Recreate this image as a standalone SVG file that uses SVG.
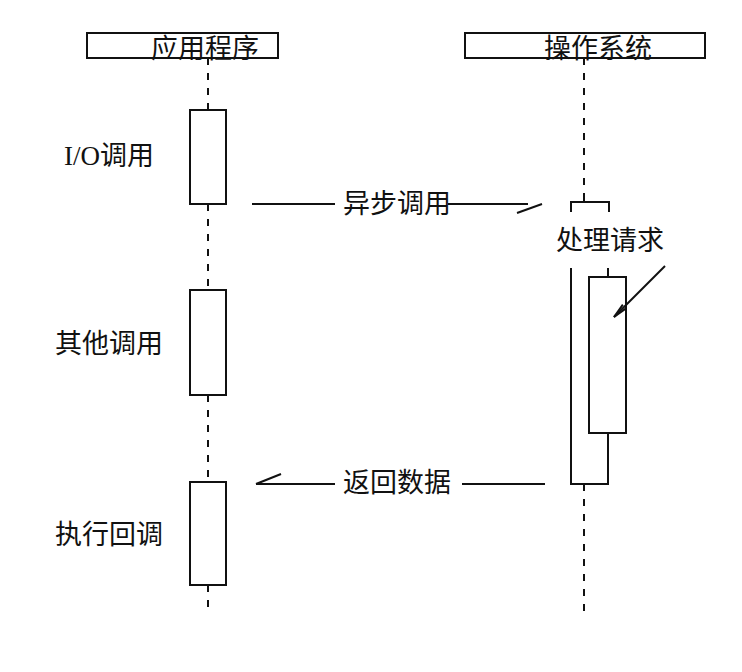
<svg xmlns="http://www.w3.org/2000/svg" width="742" height="672" viewBox="0 0 742 672">
<defs>
<style>
.t{font-family:"Noto Sans CJK SC","Liberation Serif",sans-serif;font-size:27px;fill:#111;}
.s{font-family:"Liberation Serif",serif;}
.box{fill:#fff;stroke:#111;stroke-width:2;}
.ln{fill:none;stroke:#111;stroke-width:2;}
.dash{fill:none;stroke:#111;stroke-width:2;stroke-dasharray:7 8;}
</style>
<marker id="ah" markerWidth="16" markerHeight="8" refX="15" refY="4" orient="auto" markerUnits="userSpaceOnUse">
<path d="M0,1.5 L15,4 L0,6.5" fill="none" stroke="#111" stroke-width="2"/>
</marker>
</defs>
<rect width="742" height="672" fill="#fff"/>
<g id="app">
<rect class="box" x="87" y="33" width="191" height="25"/>
<text class="t" x="205" y="58" text-anchor="middle">应用程序</text>
</g>
<g id="os">
<rect class="box" x="465" y="33" width="240" height="25"/>
<text class="t" x="598" y="58" text-anchor="middle">操作系统</text>
</g>
<g id="io-call">
<rect class="box" x="190" y="110" width="36" height="94"/>
<text class="t" x="64" y="165"><tspan class="s">I/O</tspan>调用</text>
</g>
<g id="other-call">
<rect class="box" x="190" y="290" width="36" height="105"/>
<text class="t" x="55" y="353">其他调用</text>
</g>
<g id="callback">
<rect class="box" x="190" y="482" width="36" height="103"/>
<text class="t" x="55" y="544">执行回调</text>
</g>
<g id="handle">
<path class="ln" d="M571,212 V202 H609 V212 M584,202 V196"/>
<text class="t" x="556" y="250">处理请求</text>
<path class="ln" d="M571,268 V484 H608 V433 M608,277 V268"/>
<rect class="box" x="589" y="277" width="37" height="156"/>
</g>
<g id="connectors">
<line class="dash" x1="208" y1="58" x2="208" y2="110"/>
<line class="dash" x1="208" y1="204" x2="208" y2="290"/>
<line class="dash" x1="208" y1="395" x2="208" y2="482"/>
<line class="dash" x1="208" y1="585" x2="208" y2="615"/>
<line class="dash" x1="584" y1="58" x2="584" y2="196"/>
<line class="dash" x1="584" y1="484" x2="584" y2="615"/>
<line class="ln" x1="252" y1="204" x2="335" y2="204"/>
<line class="ln" x1="448" y1="204" x2="528" y2="204"/>
<line class="ln" x1="517" y1="213" x2="542" y2="204"/>
<line class="ln" x1="256" y1="484" x2="335" y2="484"/>
<line class="ln" x1="256" y1="484" x2="281" y2="474"/>
<line class="ln" x1="462" y1="484" x2="545" y2="484"/>
<line class="ln" x1="665" y1="266" x2="614" y2="317" marker-end="url(#ah)"/>
<text class="t" x="343" y="213">异步调用</text>
<text class="t" x="343" y="492">返回数据</text>
</g>
</svg>
